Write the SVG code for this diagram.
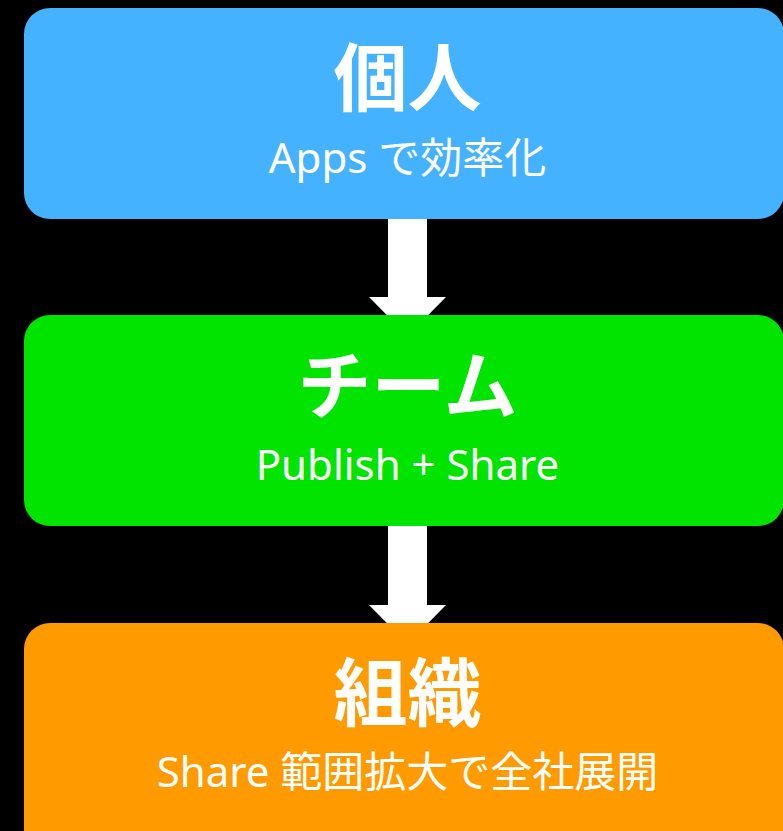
<svg xmlns="http://www.w3.org/2000/svg" width="783" height="831" viewBox="0 0 783 831">
<style>
.title{font-family:"Noto Sans CJK JP","Noto Sans",sans-serif;font-weight:bold;font-size:74px;fill:#fff;text-anchor:middle}
.sub{font-family:"Noto Sans","Noto Sans CJK JP",sans-serif;font-size:42px;fill:#fff;text-anchor:middle}
.arrow{fill:#fff}
</style>
<rect width="783" height="831" fill="#000"/>
<g id="connectors">
<polygon class="arrow" points="388,210 427,210 427,297 446,297 407.5,336 369,297 388,297"/>
<polygon class="arrow" points="388,518 427,518 427,605 446,605 407.5,644 369,605 388,605"/>
</g>
<g id="node-individual">
<rect x="24" y="8" width="760" height="211" rx="26" fill="#45B2FF"/>
<text class="title" x="407.5" y="105">個人</text>
<text class="sub" x="407.5" y="173">Apps で効率化</text>
</g>
<g id="node-team">
<rect x="24" y="315" width="760" height="211" rx="26" fill="#00E400"/>
<text class="title" x="407.5" y="413">チーム</text>
<text class="sub" x="407.5" y="480">Publish + Share</text>
</g>
<g id="node-org">
<rect x="24" y="623" width="760" height="240" rx="26" fill="#FF9B00"/>
<text class="title" x="407.5" y="720">組織</text>
<text class="sub" x="407.5" y="787">Share 範囲拡大で全社展開</text>
</g>
</svg>
